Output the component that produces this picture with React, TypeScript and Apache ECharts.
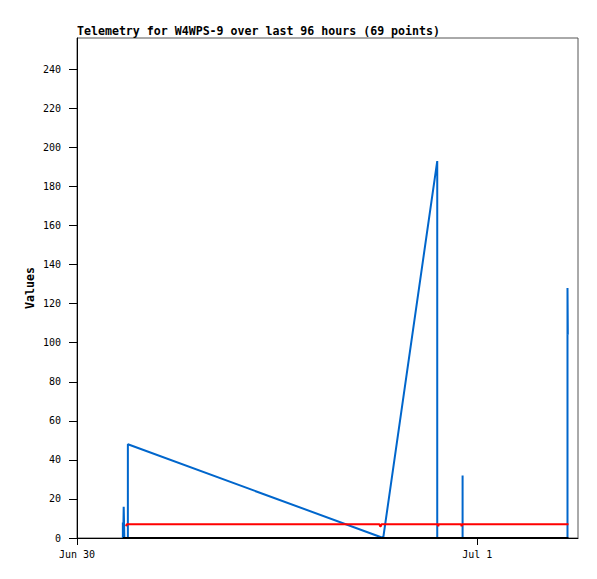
import React, { useEffect, useRef } from "react";
import * as echarts from "echarts";

// Hours since Jun 30 00:00
const blueTimes = [2.75, 2.75, 2.77, 2.77, 2.8, 2.8, 2.84, 3.05, 3.05, 18.36, 21.6, 21.6, 23.12, 23.12, 23.12, 29.41, 29.41, 29.43];
const blueValues = [0, 8, 8, 0, 0, 16, 0, 0, 48, 0, 193, 0, 0, 32, 0, 0, 128, 104];

const redTimes = [2.94, 2.98, 18.14, 18.17, 18.22, 18.25, 21.64, 21.66, 21.69, 23.03, 23.06, 23.1, 29.47];
const redValues = [6, 7, 7, 6, 6, 7, 7, 6, 7, 7, 6, 7, 7];

const blackTimes = [2.75, 29.47];
const blackValues = [0, 0];

const xTickValues = [0, 24];
const xTickLabels = ["Jun 30", "Jul 1"];
const yTickValues = [0, 20, 40, 60, 80, 100, 120, 140, 160, 180, 200, 220, 240];

const titleText = "Telemetry for W4WPS-9 over last 96 hours (69 points)";
const yAxisTitle = "Values";

const zip = (t: number[], v: number[]) => t.map((x, i) => [x, v[i]]);

export default function App() {
  const ref = useRef<HTMLDivElement>(null);
  useEffect(() => {
    if (!ref.current) return;
    const chart = echarts.init(ref.current, null, { renderer: "svg" });
    const mono = "DejaVu Sans Mono";
    chart.setOption({
      animation: false,
      backgroundColor: "#ffffff",
      grid: {
        left: 77,
        right: 19,
        top: 38,
        bottom: 41,
        show: true,
        borderColor: "#555555",
        borderWidth: 1,
      },
      graphic: [
        {
          type: "text",
          left: 77,
          top: 25,
          style: {
            text: titleText,
            font: `bold 11.6px "${mono}"`,
            fill: "#000",
          },
        },
        {
          type: "text",
          x: 30,
          y: 288,
          rotation: Math.PI / 2,
          style: {
            text: yAxisTitle,
            font: `bold 11.6px "${mono}"`,
            fill: "#000",
            align: "center",
            verticalAlign: "middle",
          },
        },
      ],
      xAxis: {
        type: "value",
        min: 0,
        max: 30.04,
        axisLine: { show: true, lineStyle: { color: "#000", width: 1 } },
        axisTick: { show: true, customValues: xTickValues, length: 7, lineStyle: { color: "#000" } },
        axisLabel: {
          customValues: xTickValues,
          formatter: (v: number) => xTickLabels[xTickValues.indexOf(v)] ?? "",
          margin: 11,
          color: "#000",
          fontFamily: mono,
          fontSize: 10,
        },
        splitLine: { show: false },
      },
      yAxis: {
        type: "value",
        min: 0,
        max: 256,
        axisLine: { show: true, lineStyle: { color: "#000", width: 1 } },
        axisTick: { show: true, customValues: yTickValues, length: 8, lineStyle: { color: "#000" } },
        axisLabel: {
          customValues: yTickValues,
          margin: 16,
          color: "#000",
          fontFamily: mono,
          fontSize: 10,
        },
        splitLine: { show: false },
      },
      series: [
        {
          type: "line",
          data: zip(blueTimes, blueValues),
          showSymbol: false,
          lineStyle: { color: "#0066cc", width: 2 },
          z: 2,
        },
        {
          type: "line",
          data: zip(redTimes, redValues),
          showSymbol: false,
          lineStyle: { color: "#ff0000", width: 2 },
          z: 3,
        },
        {
          type: "line",
          data: zip(blackTimes, blackValues),
          showSymbol: false,
          lineStyle: { color: "#000000", width: 2 },
          z: 4,
        },
      ],
    });
    return () => chart.dispose();
  }, []);
  return (
    <div
      ref={ref}
      style={{ position: "fixed", left: 0, top: 0, width: 597, height: 579, background: "#fff" }}
    />
  );
}
